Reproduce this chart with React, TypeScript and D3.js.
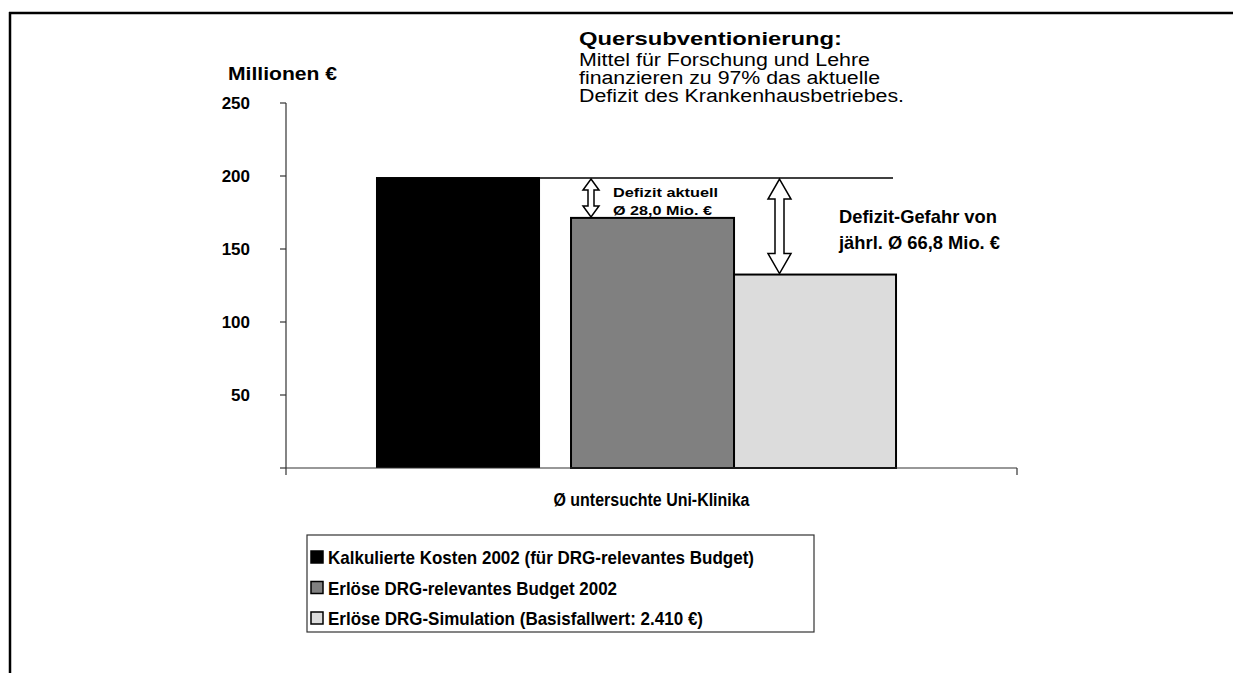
import React from "react";
import * as d3 from "d3";

const categories = ["Ø untersuchte Uni-Klinika"];
const seriesNames = [
  "Kalkulierte Kosten 2002 (für DRG-relevantes Budget)",
  "Erlöse DRG-relevantes Budget 2002",
  "Erlöse DRG-Simulation (Basisfallwert: 2.410 €)",
];
const seriesValues = [199.3, 171.3, 132.5];
const seriesColors = ["#000000", "#808080", "#dcdcdc"];
const yTicks = [50, 100, 150, 200, 250];
const titleLines = [
  "Mittel für Forschung und Lehre",
  "finanzieren zu 97% das aktuelle",
  "Defizit des Krankenhausbetriebes.",
];

const FONT = "'Liberation Sans', Arial, Helvetica, sans-serif";

export default function App() {
  const W = 1233;
  const H = 673;
  const y = d3.scaleLinear().domain([0, 250]).range([468, 103]);
  const xCat = d3.scaleBand().domain(categories).range([286, 1017]).padding(0);
  const catX0 = xCat(categories[0]) as number;
  const catW = xCat.bandwidth();
  // bar layout inside the category (fractions of the category width)
  const barLayout = [
    { start: 0.1231, width: 0.2244 },
    { start: 0.3899, width: 0.223 },
    { start: 0.6129, width: 0.2216 },
  ];
  const bars = seriesValues.map((v, i) => ({
    x: catX0 + barLayout[i].start * catW,
    w: barLayout[i].width * catW,
    y: y(v),
    h: y(0) - y(v),
    color: seriesColors[i],
    name: seriesNames[i],
  }));

  const doubleArrow = (cx: number, y1: number, y2: number, headW: number, shaftW: number, headL: number) => {
    const hw = headW / 2;
    const sw = shaftW / 2;
    return [
      [cx, y1],
      [cx + hw, y1 + headL],
      [cx + sw, y1 + headL],
      [cx + sw, y2 - headL],
      [cx + hw, y2 - headL],
      [cx, y2],
      [cx - hw, y2 - headL],
      [cx - sw, y2 - headL],
      [cx - sw, y1 + headL],
      [cx - hw, y1 + headL],
    ]
      .map((p, i) => (i === 0 ? "M" : "L") + p[0] + "," + p[1])
      .join("") + "Z";
  };

  const costY = y(seriesValues[0]);
  const budgetY = y(seriesValues[1]);
  const simY = y(seriesValues[2]);
  const legendWidths = [426, 289, 375];

  return (
    <svg
      width={W}
      height={H}
      style={{ position: "absolute", left: 0, top: 0, background: "#fff" }}
      fontFamily={FONT}
    >
      {/* frame */}
      <line x1={9} y1={13} x2={W} y2={13} stroke="#000" strokeWidth={2.5} />
      <line x1={10} y1={12} x2={10} y2={H} stroke="#000" strokeWidth={2.5} />

      {/* title block */}
      <text x={579} y={45} fontSize={19} fontWeight="bold" textLength={263} lengthAdjust="spacingAndGlyphs">
        Quersubventionierung:
      </text>
      {titleLines.map((t, i) => (
        <text key={i} x={579} y={66 + i * 18} fontSize={18} textLength={[291, 301, 325][i]} lengthAdjust="spacingAndGlyphs">
          {t}
        </text>
      ))}

      {/* y axis label */}
      <text x={228} y={80} fontSize={19} fontWeight="bold" textLength={109} lengthAdjust="spacingAndGlyphs">
        Millionen €
      </text>

      {/* bars */}
      {bars.map((b, i) => (
        <rect
          key={i}
          x={b.x}
          y={b.y}
          width={b.w}
          height={b.h}
          fill={b.color}
          stroke={i === 0 ? "none" : "#000"}
          strokeWidth={2}
        />
      ))}

      {/* axes */}
      <line x1={286} y1={y(250)} x2={286} y2={475} stroke="#333" strokeWidth={1.2} />
      {yTicks.concat([0]).map((t) => (
        <line key={t} x1={280} y1={y(t)} x2={286} y2={y(t)} stroke="#333" strokeWidth={1.2} />
      ))}
      {yTicks.map((t) => (
        <text key={t} x={250} y={y(t) + 6} fontSize={17} fontWeight="bold" textAnchor="end">
          {t}
        </text>
      ))}
      <line x1={286} y1={y(0)} x2={1017} y2={y(0)} stroke="#333" strokeWidth={1.2} />
      <line x1={1017} y1={y(0)} x2={1017} y2={475} stroke="#333" strokeWidth={1.2} />
      <text x={catX0 + catW / 2} y={506} fontSize={17.5} fontWeight="bold" textAnchor="middle" textLength={196} lengthAdjust="spacingAndGlyphs">
        {categories[0]}
      </text>

      {/* reference line at cost level */}
      <line x1={bars[0].x + bars[0].w} y1={costY + 1} x2={893} y2={costY + 1} stroke="#000" strokeWidth={1.6} />

      {/* arrows */}
      <path d={doubleArrow(591, costY + 2, budgetY - 1, 16, 6, 11)} fill="#fff" stroke="#000" strokeWidth={1.5} />
      <path d={doubleArrow(779.5, costY + 2, simY - 1, 23, 9, 20)} fill="#fff" stroke="#000" strokeWidth={1.5} />

      {/* annotations */}
      <text x={613} y={197} fontSize={13} fontWeight="bold" textLength={105} lengthAdjust="spacingAndGlyphs">
        Defizit aktuell
      </text>
      <text x={613} y={215} fontSize={13} fontWeight="bold" textLength={99} lengthAdjust="spacingAndGlyphs">
        Ø 28,0 Mio. €
      </text>
      <text x={839} y={223} fontSize={18.5} fontWeight="bold" textLength={158} lengthAdjust="spacingAndGlyphs">
        Defizit-Gefahr von
      </text>
      <text x={839} y={249} fontSize={18.5} fontWeight="bold" textLength={161} lengthAdjust="spacingAndGlyphs">
        jährl. Ø 66,8 Mio. €
      </text>

      {/* legend */}
      <rect x={307} y={535} width={507} height={97} fill="#fff" stroke="#333" strokeWidth={1.2} />
      {seriesNames.map((n, i) => (
        <g key={i}>
          <rect x={311} y={551 + i * 30.5} width={12} height={12} fill={seriesColors[i]} stroke="#000" strokeWidth={1.5} />
          <text x={328} y={564 + i * 30.5} fontSize={19} fontWeight="bold" textLength={legendWidths[i]} lengthAdjust="spacingAndGlyphs">
            {n}
          </text>
        </g>
      ))}
    </svg>
  );
}
